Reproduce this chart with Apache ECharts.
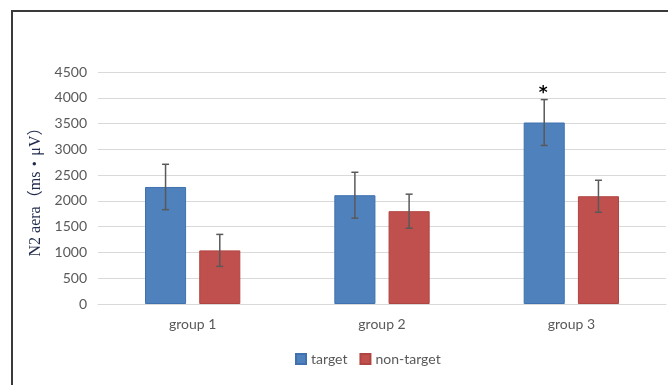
<!DOCTYPE html>
<html>
<head>
<meta charset="utf-8">
<script src="https://cdn.jsdelivr.net/npm/echarts@6/dist/echarts.min.js"></script>
<style>
  html, body { margin: 0; padding: 0; background: #fff; }
  #chart { width: 668px; height: 385px; }
</style>
</head>
<body>
<div id="chart"></div>
<script>
// Group labels and the two conditions
const categories = ['group 1', 'group 2', 'group 3'];
const seriesNames = ['target', 'non-target'];

// Mean N2 area per group
const targetValues = [2270, 2110, 3520];
const nonTargetValues = [1040, 1800, 2090];

// Error bar half-widths (±)
const targetErrors = [440, 445, 445];
const nonTargetErrors = [310, 330, 310];

// Significance marks drawn above the target bars
const targetMarks = ['', '', '*'];

// Axis ticks
const yTicks = [0, 500, 1000, 1500, 2000, 2500, 3000, 3500, 4000, 4500];

const BAR_WIDTH_FRAC = 0.217;
const BAR_GAP_FRAC = 0.32;
const LABEL_FONT = 'Lato, "Open Sans", sans-serif';

function errorSeries(name, values, errors, marks, side) {
  const data = values.map((v, i) => [i, v, errors[i], marks ? marks[i] : '']);
  return {
    name: name + ' error',
    type: 'custom',
    z: 10,
    silent: true,
    data: data,
    encode: { x: 0, y: [1] },
    renderItem: function (params, api) {
      const idx = api.value(0);
      const mean = api.value(1);
      const err = api.value(2);
      const mark = data[params.dataIndex][3];
      const band = api.size([1, 0])[0];
      const bw = band * BAR_WIDTH_FRAC;
      const offset = side * (bw + bw * BAR_GAP_FRAC) / 2;
      const top = api.coord([idx, mean + err]);
      const bot = api.coord([idx, mean - err]);
      const x = top[0] + offset;
      const cap = 3.5;
      const style = { stroke: '#595959', lineWidth: 1.5 };
      const children = [
        { type: 'line', shape: { x1: x, y1: top[1], x2: x, y2: bot[1] }, style: style },
        { type: 'line', shape: { x1: x - cap, y1: top[1], x2: x + cap, y2: top[1] }, style: style },
        { type: 'line', shape: { x1: x - cap, y1: bot[1], x2: x + cap, y2: bot[1] }, style: style }
      ];
      if (mark) {
        children.push({
          type: 'text',
          style: {
            text: mark, x: x - 1, y: top[1] + 2,
            align: 'center', verticalAlign: 'bottom',
            fill: '#000', font: 'bold 17px "DejaVu Sans"'
          }
        });
      }
      return { type: 'group', children: children };
    }
  };
}

const chart = echarts.init(document.getElementById('chart'), null, { renderer: 'canvas' });

chart.setOption({
  animation: false,
  backgroundColor: '#fff',
  color: ['#4f81bd', '#c0504d'],
  graphic: [
    { type: 'line', shape: { x1: 12, y1: 11, x2: 668, y2: 11 }, style: { stroke: '#3a3a3a', lineWidth: 2 } },
    { type: 'line', shape: { x1: 12, y1: 10, x2: 12, y2: 385 }, style: { stroke: '#3a3a3a', lineWidth: 2 } }
  ],
  grid: { left: 98, right: 2, top: 72, bottom: 81, containLabel: false },
  legend: {
    data: seriesNames,
    bottom: 14,
    left: 290,
    itemWidth: 10,
    itemHeight: 10,
    itemGap: 12,
    icon: 'rect',
    textStyle: { color: '#595959', fontSize: 14, fontFamily: LABEL_FONT }
  },
  xAxis: {
    type: 'category',
    data: categories,
    axisLine: { show: true, lineStyle: { color: '#d9d9d9', width: 1 } },
    axisTick: { show: false },
    axisLabel: { color: '#595959', fontSize: 14, margin: 13, fontFamily: LABEL_FONT }
  },
  yAxis: {
    type: 'value',
    min: yTicks[0],
    max: yTicks[yTicks.length - 1],
    interval: yTicks[1] - yTicks[0],
    name: 'N2 aera（ms・μV）',
    nameLocation: 'middle',
    nameGap: 54,
    nameTextStyle: { color: '#1f2a4d', fontSize: 16, fontFamily: '"Liberation Serif", "Noto Sans CJK SC", serif' },
    axisLine: { show: false },
    axisTick: { show: false },
    splitLine: { lineStyle: { color: '#d9d9d9', width: 1 } },
    axisLabel: {
      color: '#595959', fontSize: 14, margin: 11, fontFamily: LABEL_FONT,
      formatter: function (v) { return String(v); }
    }
  },
  series: [
    {
      name: seriesNames[0], type: 'bar', data: targetValues,
      barWidth: (BAR_WIDTH_FRAC * 100) + '%', barGap: (BAR_GAP_FRAC * 100) + '%',
      itemStyle: { color: '#4f81bd', borderColor: '#3f71b0', borderWidth: 1 }
    },
    {
      name: seriesNames[1], type: 'bar', data: nonTargetValues,
      barWidth: (BAR_WIDTH_FRAC * 100) + '%', barGap: (BAR_GAP_FRAC * 100) + '%',
      itemStyle: { color: '#c0504d', borderColor: '#b04441', borderWidth: 1 }
    },
    errorSeries(seriesNames[0], targetValues, targetErrors, targetMarks, -1),
    errorSeries(seriesNames[1], nonTargetValues, nonTargetErrors, null, 1)
  ]
});
</script>
</body>
</html>
